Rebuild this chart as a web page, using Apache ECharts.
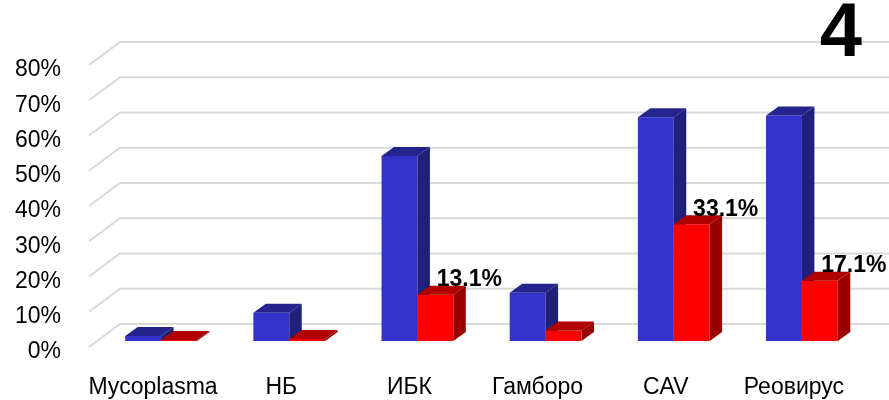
<!DOCTYPE html>
<html>
<head>
<meta charset="utf-8">
<script src="https://cdn.jsdelivr.net/npm/echarts@6/dist/echarts.min.js"></script>
<style>
html, body { margin: 0; padding: 0; background: #fff; }
#chart { width: 889px; height: 400px; }
</style>
</head>
<body>
<div id="chart"></div>
<script>
var categories = ['Mycoplasma', 'НБ', 'ИБК', 'Гамборо', 'CAV', 'Реовирус'];
var blueValues = [1.4, 8.0, 52.5, 13.7, 63.5, 64.0];
var redValues = [0.3, 0.6, 13.1, 3.0, 33.1, 17.1];
var redLabels = ['', '', '13.1%', '', '33.1%', '17.1%'];
var yTicks = [0, 10, 20, 30, 40, 50, 60, 70, 80];

// pseudo 3d geometry (pixels)
var DEPTH_X = 31, DEPTH_Y = -23;      // floor depth, front to back wall
var SHIFT_X = 8, SHIFT_Y = -6;        // bar front face sits a bit inside the floor
var BAR_DX = 12.5, BAR_DY = -9;       // bar thickness
var BAR_RATIO = 0.28;

var chart = echarts.init(document.getElementById('chart'));

function poly(points, color) {
    return { type: 'polygon', shape: { points: points }, style: { fill: color } };
}

function barRenderer(front, top, side, leftSide, labels) {
    return function (params, api) {
        var idx = api.value(0);
        var base = api.coord([idx, 0]);
        var tip = api.coord([idx, api.value(1)]);
        var w = api.size([1, 0])[0] * BAR_RATIO;
        var x0 = base[0] + SHIFT_X - (leftSide ? w : 0);
        var x1 = x0 + w;
        var yb = base[1] + SHIFT_Y;
        var yt = tip[1] + SHIFT_Y;
        var children = [
            poly([[x0, yt], [x1, yt], [x1, yb], [x0, yb]], front),
            poly([[x0, yt], [x0 + BAR_DX, yt + BAR_DY], [x1 + BAR_DX, yt + BAR_DY], [x1, yt]], top),
            poly([[x1, yt], [x1 + BAR_DX, yt + BAR_DY], [x1 + BAR_DX, yb + BAR_DY], [x1, yb]], side)
        ];
        if (labels && labels[params.dataIndex]) {
            children.push({
                type: 'text',
                style: {
                    text: labels[params.dataIndex],
                    x: x0 + w / 2 + 34,
                    y: yt - 15,
                    align: 'center',
                    verticalAlign: 'middle',
                    fill: '#000',
                    font: 'bold 23px "Liberation Sans", Arial, sans-serif'
                }
            });
        }
        return { type: 'group', children: children };
    };
}

chart.setOption({
    animation: false,
    title: {
        text: '4',
        right: 22,
        top: -8,
        textStyle: {
            fontFamily: '"Liberation Sans", Arial, sans-serif',
            fontSize: 76,
            fontWeight: 'bold',
            color: '#000'
        }
    },
    grid: {
        left: 89,
        right: 31,
        top: 65,
        bottom: 53
    },
    xAxis: {
        type: 'category',
        data: categories,
        axisLine: { show: false },
        axisTick: { show: false },
        axisLabel: {
            interval: 0,
            margin: 29,
            fontSize: 23,
            color: '#000',
            fontFamily: '"Liberation Sans", Arial, sans-serif'
        }
    },
    yAxis: {
        type: 'value',
        min: 0,
        max: 80,
        interval: 10,
        axisLine: { show: false },
        axisTick: { show: false },
        splitLine: { show: false },
        axisLabel: {
            margin: 28,
            fontSize: 23,
            color: '#000',
            verticalAlign: 'top',
            lineHeight: 10,
            fontFamily: '"Liberation Sans", Arial, sans-serif',
            formatter: '{value}%'
        }
    },
    series: [{
        type: 'custom',
        z: 1,
        silent: true,
        data: yTicks.map(function (v) { return [0, v]; }),
        renderItem: function (params, api) {
            var p = api.coord([0, api.value(1)]);
            var half = api.size([1, 0])[0] / 2;
            var left = p[0] - half;
            var right = api.coord([categories.length - 1, api.value(1)])[0] + half;
            return {
                type: 'polyline',
                shape: { points: [[left, p[1]], [left + DEPTH_X, p[1] + DEPTH_Y], [right + DEPTH_X, p[1] + DEPTH_Y]] },
                style: { stroke: '#d9d9d9', lineWidth: 2, fill: null }
            };
        }
    }, {
        type: 'custom',
        z: 2,
        data: blueValues.map(function (v, i) { return [i, v]; }),
        renderItem: barRenderer('#3333cc', '#24248c', '#20207a', true, null)
    }, {
        type: 'custom',
        z: 3,
        data: redValues.map(function (v, i) { return [i, v]; }),
        renderItem: barRenderer('#ff0000', '#b00000', '#9a0000', false, redLabels)
    }]
});
window.onresize = chart.resize;
</script>
</body>
</html>
